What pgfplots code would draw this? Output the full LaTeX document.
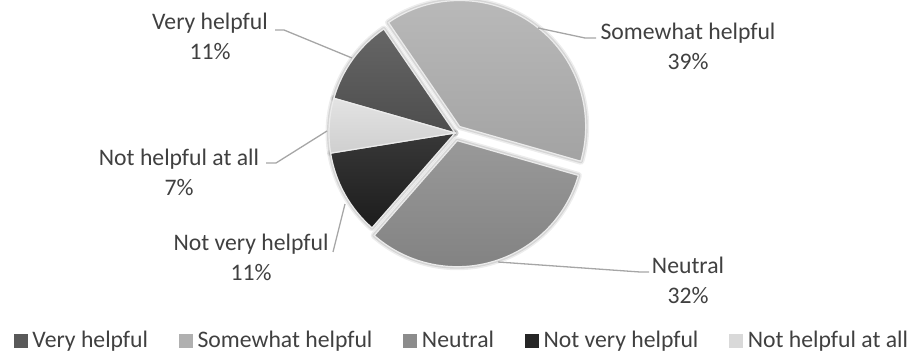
\documentclass[border=0pt]{standalone}
\usepackage{pgfplots}
\pgfplotsset{compat=1.18}
\usepackage{pgfplotstable}
\usepackage{fontspec}
\setmainfont{Carlito}
\definecolor{txt}{HTML}{404040}
\definecolor{leader}{HTML}{A6A6A6}
\definecolor{vhtop}{HTML}{666666}\definecolor{vhbot}{HTML}{4D4D4D}\definecolor{vh}{HTML}{595959}
\definecolor{shtop}{HTML}{BBBBBB}\definecolor{shbot}{HTML}{A3A3A3}\definecolor{sh}{HTML}{B0B0B0}
\definecolor{nntop}{HTML}{999999}\definecolor{nnbot}{HTML}{808080}\definecolor{nn}{HTML}{8C8C8C}
\definecolor{nvhtop}{HTML}{383838}\definecolor{nvhbot}{HTML}{1C1C1C}\definecolor{nvh}{HTML}{262626}
\definecolor{nhatop}{HTML}{E3E3E3}\definecolor{nhabot}{HTML}{CFCFCF}\definecolor{nha}{HTML}{D9D9D9}

% value = percent share; explode in px; lx, ly = label centre x and first baseline (image coords)
\pgfplotstableread[col sep=comma]{
label,value,explode,col,lx,ly
Very helpful,11,0,vh,210,29.5
Somewhat helpful,39,8,sh,688,40
Neutral,32,8,nn,688,273.5
Not very helpful,11,0,nvh,251,250
Not helpful at all,7,0,nha,179,165.5
}\piedata

\begin{document}
\fontsize{23.7}{30}\selectfont
\color{txt}
\begin{tikzpicture}
\begin{axis}[
  x=1pt, y=1pt, xmin=0, xmax=923, ymin=0, ymax=358, y dir=reverse,
  hide axis, clip=false,
  legend columns=5,
  legend image code/.code={\fill[#1, draw=none] (0pt,-6.8pt) rectangle (13.5pt,6.8pt);},
  legend style={draw=none, fill=none, at={(axis cs:14,341)}, anchor=west,
    inner sep=0pt, outer sep=0pt, nodes={inner sep=0pt, text=txt},
    /tikz/every odd column/.append style={column sep=5pt},
    /tikz/every even column/.append style={column sep=31pt}},
]
\addlegendimage{fill=vh, draw=none}\addlegendentry{Very helpful}
\addlegendimage{fill=sh, draw=none}\addlegendentry{Somewhat helpful}
\addlegendimage{fill=nn, draw=none}\addlegendentry{Neutral}
\addlegendimage{fill=nvh, draw=none}\addlegendentry{Not very helpful}
\addlegendimage{fill=nha, draw=none}\addlegendentry{Not helpful at all}

% soft shadows first
\def\cum{164}
\pgfplotsforeachungrouped \i in {0,...,4}{%
  \pgfplotstablegetelem{\i}{value}\of\piedata \let\v\pgfplotsretval
  \pgfplotstablegetelem{\i}{explode}\of\piedata \let\ex\pgfplotsretval
  \pgfmathsetmacro\endang{\cum-3.6*\v}%
  \pgfmathsetmacro\midang{(\cum+\endang)/2}%
  \pgfmathsetmacro\ox{455+\ex*cos(\midang)}%
  \pgfmathsetmacro\oy{133-\ex*sin(\midang)}%
  \edef\temp{%
    \noexpand\path[draw=black, draw opacity=0.07, line width=7pt, line join=round]
      (axis cs:\ox,\oy) -- ++(\cum:126pt) arc[start angle=\cum, end angle=\endang, radius=126pt] -- cycle;
    \noexpand\path[draw=black, draw opacity=0.10, line width=4pt, line join=round]
      (axis cs:\ox,\oy) -- ++(\cum:126pt) arc[start angle=\cum, end angle=\endang, radius=126pt] -- cycle;
  }%
  \temp
  \let\cum\endang
}

% slices and labels
\def\cum{164}
\pgfplotsforeachungrouped \i in {0,...,4}{%
  \pgfplotstablegetelem{\i}{value}\of\piedata \let\v\pgfplotsretval
  \pgfplotstablegetelem{\i}{explode}\of\piedata \let\ex\pgfplotsretval
  \pgfplotstablegetelem{\i}{col}\of\piedata \let\col\pgfplotsretval
  \pgfplotstablegetelem{\i}{label}\of\piedata \let\lab\pgfplotsretval
  \pgfplotstablegetelem{\i}{lx}\of\piedata \let\lx\pgfplotsretval
  \pgfplotstablegetelem{\i}{ly}\of\piedata \let\ly\pgfplotsretval
  \pgfmathsetmacro\endang{\cum-3.6*\v}%
  \pgfmathsetmacro\midang{(\cum+\endang)/2}%
  \pgfmathsetmacro\ox{455+\ex*cos(\midang)}%
  \pgfmathsetmacro\oy{133-\ex*sin(\midang)}%
  \pgfmathsetmacro\lyy{\ly+30}%
  \edef\temp{%
    \noexpand\path[draw=white!92!black, line width=1.2pt, top color=\col top, bottom color=\col bot]
      (axis cs:\ox,\oy) -- ++(\cum:126pt) arc[start angle=\cum, end angle=\endang, radius=126pt] -- cycle;
    \noexpand\node[anchor=base, inner sep=0pt, text=txt] at (axis cs:\lx,\ly) {\lab};
    \noexpand\node[anchor=base, inner sep=0pt, text=txt] at (axis cs:\lx,\lyy) {\v\noexpand\%};
  }%
  \temp
  \let\cum\endang
}

\addplot[leader, line width=1.3pt, forget plot] coordinates {(352,58) (284,30) (275,30)};
\addplot[leader, line width=1.3pt, forget plot] coordinates {(538,28) (585,38) (596,38)};
\addplot[leader, line width=1.3pt, forget plot] coordinates {(498,262) (640,272) (649,272)};
\addplot[leader, line width=1.3pt, forget plot] coordinates {(345,204) (333,252)};
\addplot[leader, line width=1.3pt, forget plot] coordinates {(327,131) (276,163) (266,163)};
\end{axis}
\pgfresetboundingbox
\path (current axis.south west) rectangle (current axis.north east);
\end{tikzpicture}
\end{document}
